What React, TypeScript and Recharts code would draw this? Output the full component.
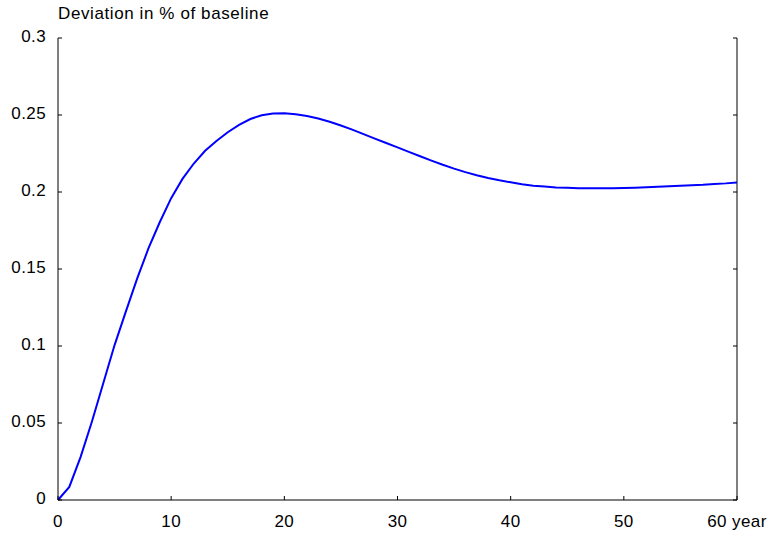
import React from "react";
import { LineChart, Line, XAxis, YAxis, ReferenceLine } from "recharts";

// model output: deviation from baseline per year
const years = [
  0, 1, 2, 3, 4, 5, 6, 7, 8, 9, 10, 11, 12, 13, 14, 15, 16, 17, 18, 19, 20,
  21, 22, 23, 24, 25, 26, 27, 28, 29, 30, 31, 32, 33, 34, 35, 36, 37, 38, 39, 40,
  41, 42, 43, 44, 45, 46, 47, 48, 49, 50, 51, 52, 53, 54, 55, 56, 57, 58, 59, 60,
];
const deviation = [
  0, 0.0085, 0.028, 0.051, 0.0758, 0.1006, 0.1225, 0.1439, 0.1635, 0.1805, 0.196,
  0.2085, 0.2185, 0.2268, 0.2331, 0.2388, 0.2436, 0.2474, 0.2498, 0.251, 0.2512,
  0.2505, 0.2493, 0.2477, 0.2456, 0.2432, 0.2405, 0.2376, 0.2347, 0.2318, 0.229,
  0.2261, 0.2232, 0.2204, 0.2177, 0.2152, 0.2129, 0.2109, 0.2091, 0.2076, 0.2063,
  0.205, 0.2041, 0.2035, 0.203, 0.2027, 0.2025, 0.2024, 0.2024, 0.2025, 0.2026,
  0.2028, 0.2031, 0.2034, 0.2037, 0.2041, 0.2044, 0.2047, 0.2052, 0.2056, 0.2062,
];
const xTicks = [0, 10, 20, 30, 40, 50, 60];
const yTicks = [0, 0.05, 0.1, 0.15, 0.2, 0.25, 0.3];

const data = years.map((y, i) => ({ year: y, value: deviation[i] }));

const font = "'Liberation Sans', Arial, Helvetica, sans-serif";
const W = 780;
const H = 533;
const margin = { top: 38, right: 43, left: 8, bottom: 8 };
const plotRight = W - margin.right;
const TICK = 4;
const X_GAP = 27;
const Y_GAP = 12;

const labelStyle = { fontSize: 17, fontFamily: font, fill: "#000", letterSpacing: 0.4 };

// ticks point into the plot, so draw line + label ourselves
function XTick(props: any) {
  const { x, y, payload } = props;
  const axisY = y - X_GAP;
  const v = payload.value;
  return (
    <g>
      <line x1={x} x2={x} y1={axisY} y2={axisY - TICK} stroke="#000" />
      <text x={x} y={y} textAnchor="middle" style={labelStyle}>
        {v === 60 ? "60 year" : String(v)}
      </text>
    </g>
  );
}

function YTick(props: any) {
  const { x, y, payload } = props;
  const axisX = x + Y_GAP;
  return (
    <g>
      <line x1={axisX} x2={axisX + TICK} y1={y} y2={y} stroke="#000" />
      <line x1={plotRight} x2={plotRight - TICK} y1={y} y2={y} stroke="#000" />
      <text x={x} y={y} dy={4} textAnchor="end" style={labelStyle}>
        {String(payload.value)}
      </text>
    </g>
  );
}

export default function App() {
  return (
    <div style={{ position: "absolute", left: 0, top: 0, width: W, height: H, fontFamily: font }}>
      <div
        style={{
          position: "absolute",
          left: 58,
          top: 5,
          fontSize: 17,
          lineHeight: "17px",
          letterSpacing: 0.6,
          color: "#000",
          whiteSpace: "nowrap",
        }}
      >
        Deviation in % of baseline
      </div>
      <LineChart width={W} height={H} data={data} margin={margin}>
        <XAxis
          dataKey="year"
          type="number"
          domain={[0, 60]}
          ticks={xTicks}
          height={25}
          stroke="#000"
          tickLine={false}
          tickSize={0}
          tickMargin={X_GAP}
          tick={<XTick />}
        />
        <YAxis
          type="number"
          domain={[0, 0.3]}
          ticks={yTicks}
          width={50}
          stroke="#000"
          tickLine={false}
          tickSize={0}
          tickMargin={Y_GAP}
          tick={<YTick />}
        />
        <ReferenceLine x={60} stroke="#000" />
        <Line
          type="linear"
          dataKey="value"
          stroke="#0000ff"
          strokeWidth={2}
          dot={false}
          isAnimationActive={false}
        />
      </LineChart>
    </div>
  );
}
